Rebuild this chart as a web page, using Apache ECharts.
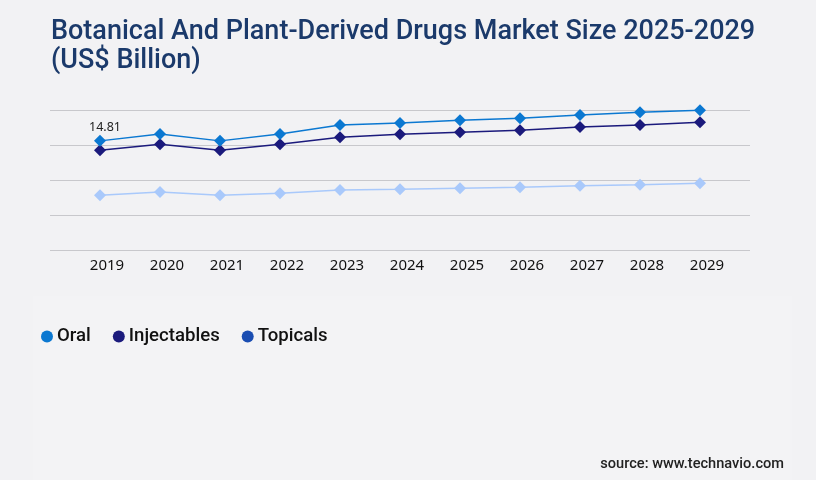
<!DOCTYPE html>
<html>
<head>
<meta charset="utf-8">
<script src="https://cdn.jsdelivr.net/npm/echarts@6/dist/echarts.min.js"></script>
<style>html,body{margin:0;padding:0;background:#f2f2f4;}#c{width:816px;height:480px;}</style>
</head>
<body>
<div id="c"></div>
<script>
const years = ['2019','2020','2021','2022','2023','2024','2025','2026','2027','2028','2029'];
const oral = [14.81, 15.74, 14.81, 15.74, 16.97, 17.24, 17.60, 17.87, 18.32, 18.69, 18.96];
const injectables = [13.53, 14.35, 13.53, 14.35, 15.30, 15.70, 15.97, 16.25, 16.69, 16.97, 17.33];
const topicals = [7.42, 7.87, 7.42, 7.70, 8.14, 8.24, 8.37, 8.51, 8.73, 8.86, 9.05];
const seriesNames = ['Oral', 'Injectables', 'Topicals'];

const chart = echarts.init(document.getElementById('c'));
const lineColors = ['#0b78d1', '#1b1a7c', '#a9c9fb'];
const legendColors = ['#0b78d1', '#1b1a7c', '#1a4db2'];
const values = [oral, injectables, topicals];

chart.setOption({
  backgroundColor: '#f2f2f4',
  animation: false,
  graphic: [{
    type: 'rect', silent: true, z: -10,
    shape: { x: 33, y: 296, width: 759, height: 184 },
    style: { fill: '#f3f3f5' }
  }],
  title: [{
    text: 'Botanical And Plant-Derived Drugs Market Size 2025-2029\n(US$ Billion)',
    left: 51, top: 18, padding: 0,
    textStyle: { fontFamily: 'Roboto', fontSize: 27, fontWeight: 500, color: '#1b3a6b', lineHeight: 29 }
  }, {
    text: 'source: www.technavio.com',
    right: 32, top: 457, padding: 0,
    textStyle: { fontFamily: 'Roboto', fontSize: 14.6, fontWeight: 500, color: '#222' }
  }],
  legend: {
    left: 41, top: 327, padding: 0,
    icon: 'circle', itemWidth: 12, itemHeight: 12, itemGap: 22,
    textStyle: { fontFamily: 'Roboto', fontSize: 18.6, fontWeight: 500, color: '#111', padding: [0, 0, 0, -1] },
    data: seriesNames.map((n, i) => ({ name: n, itemStyle: { color: legendColors[i] } }))
  },
  grid: [
    { left: 70, right: 86, top: 110, bottom: 230 },
    { left: 50, right: 66, top: 110, bottom: 230 }
  ],
  xAxis: [{
    type: 'category', gridIndex: 0, data: years, boundaryGap: true,
    axisLine: { show: false }, axisTick: { show: false },
    axisLabel: { fontFamily: 'Noto Sans', fontSize: 15, color: '#111', margin: 8, padding: [0, 0, 0, 14] }
  }, {
    type: 'category', gridIndex: 1, data: years, show: false
  }],
  yAxis: [{
    type: 'value', gridIndex: 0, min: 0, max: 19, interval: 4.75,
    axisLabel: { show: false }, splitLine: { show: false }, axisLine: { show: false }, axisTick: { show: false }
  }, {
    type: 'value', gridIndex: 1, min: 0, max: 19, interval: 4.75,
    axisLabel: { show: false }, axisLine: { show: false }, axisTick: { show: false },
    splitLine: { show: true, lineStyle: { color: '#c8c8cc', width: 1 } }
  }],
  series: seriesNames.map((n, i) => ({
    name: n, type: 'line', xAxisIndex: 0, yAxisIndex: 0,
    data: values[i].map((v, j) => (i === 0 && j === 0)
      ? { value: v, label: { show: true, position: 'top', distance: 1, offset: [5, 0], formatter: '{c}',
          fontFamily: 'Noto Sans', fontSize: 12.5, color: '#222' } }
      : v),
    symbol: 'diamond', symbolSize: 12,
    lineStyle: { color: lineColors[i], width: 1.5 },
    itemStyle: { color: lineColors[i] },
    z: 3 - i
  }))
});
</script>
</body>
</html>
